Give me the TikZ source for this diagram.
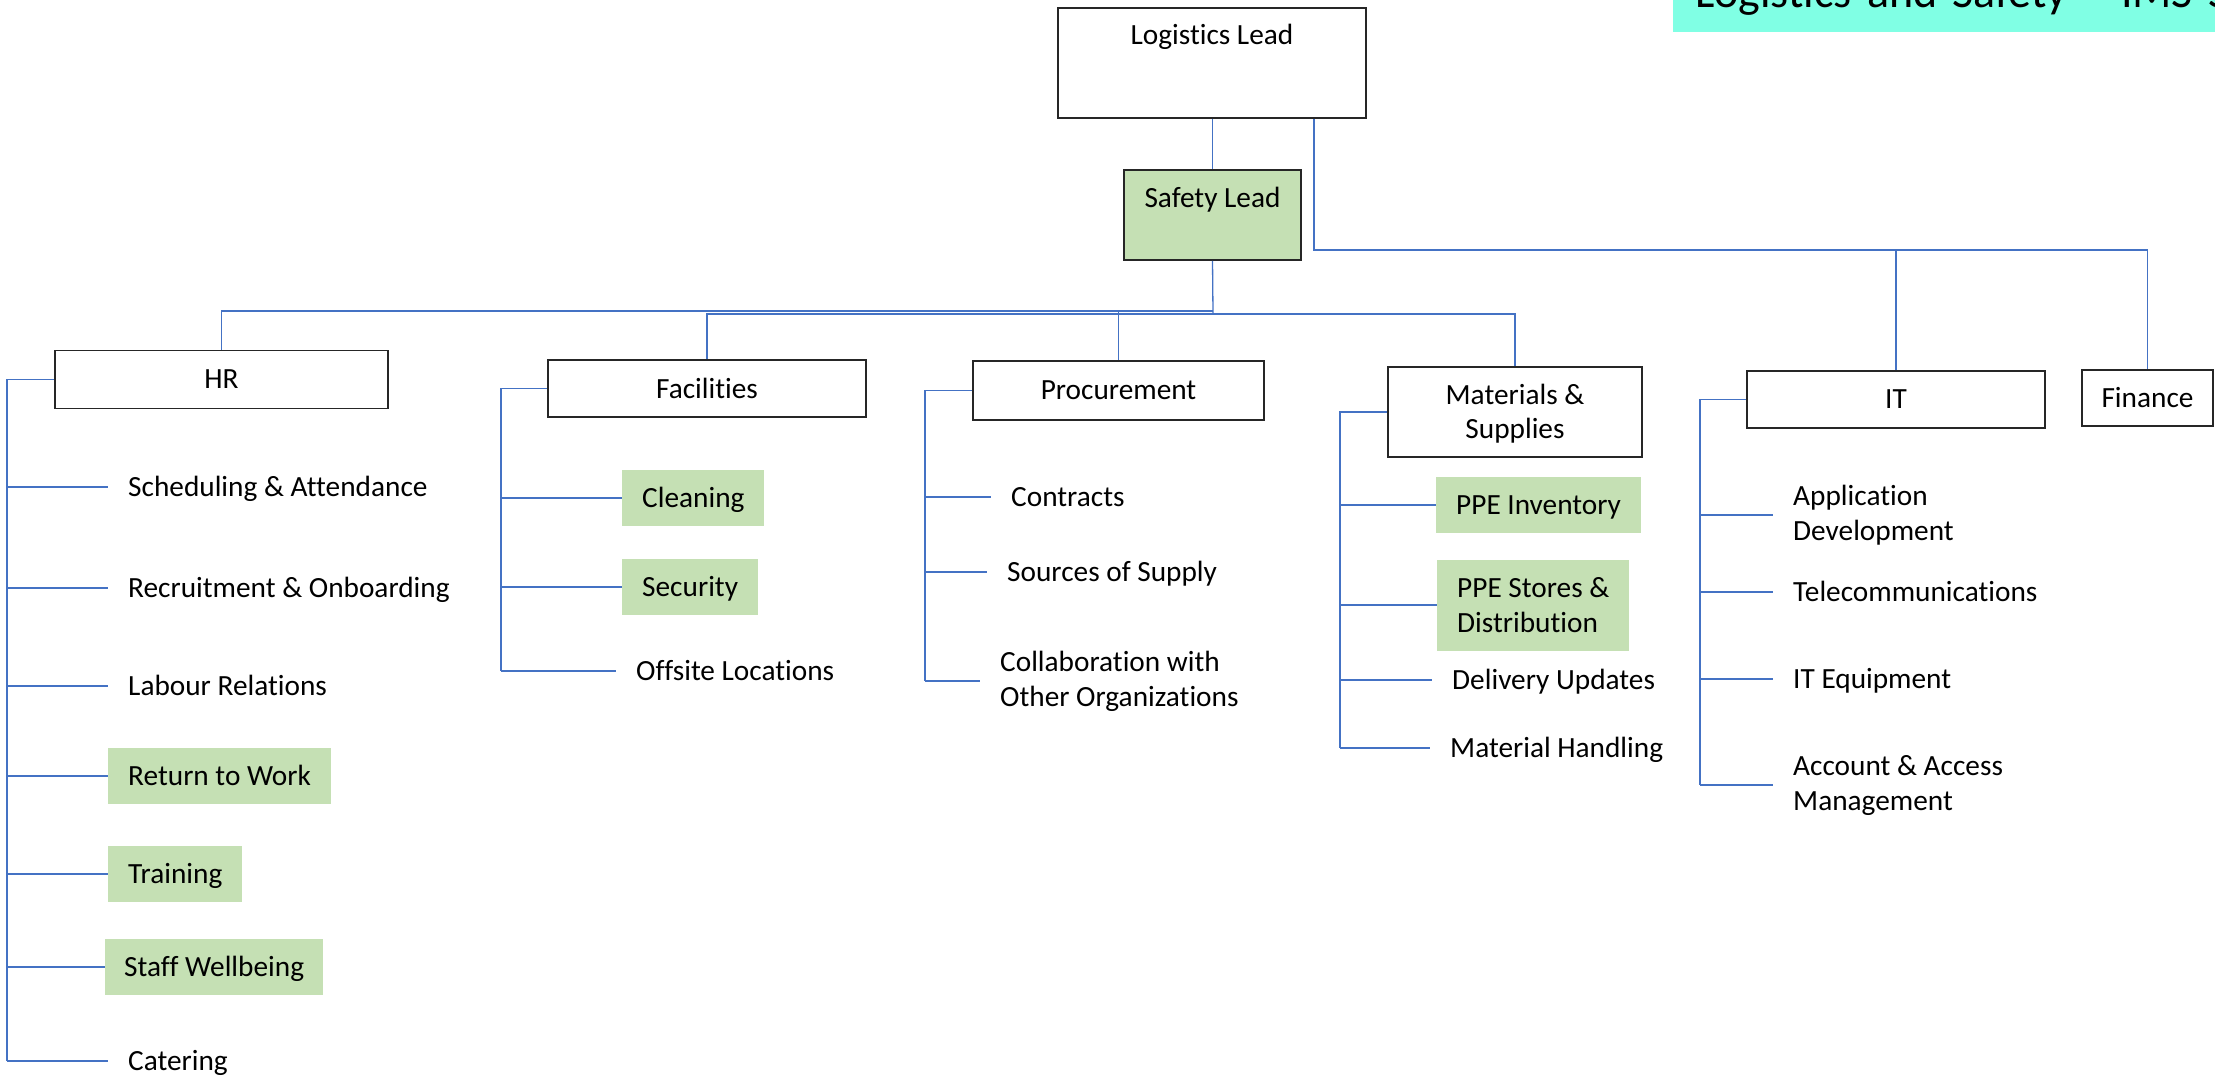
\documentclass[tikz,border=0pt]{standalone}
\usepackage{fontspec}
\setmainfont{Carlito}[Ligatures = NoCommon]
\usetikzlibrary{positioning}

\definecolor{linkblue}{HTML}{4472C4}
\definecolor{leafgreen}{HTML}{C5E0B4}
\definecolor{titlecyan}{RGB}{128,255,228}
\definecolor{boxedge}{HTML}{262626}

\tikzset{
    unit/.style = {draw = boxedge, line width = 1.6pt, fill = white, inner sep = 0pt, align = center},
    item/.style = {anchor = west, inner xsep = 20pt, inner ysep = 0pt, text height = 23pt, text depth = 5pt},
    item2/.style = {anchor = west, inner xsep = 20pt, inner ysep = 0pt, align = left},
    hl/.style = {fill = leafgreen, minimum height = 56pt},
    link/.style = {draw = linkblue, line width = 1.3pt},
    bus/.style = {draw = linkblue, line width = 1.7pt},
    twig/.style = {draw = linkblue, line width = 1.1pt}
}

\begin{document}
\begin{tikzpicture}[x = 1pt, y = -1pt, font = \fontsize{29.3}{35}\selectfont]
                \clip (0, 0) rectangle (2215, 1081);

                \node (title) [fill = titlecyan, anchor = south west, inner xsep = 22pt, inner ysep = 0pt, text width = 560pt, text height = 40pt, text depth = 24pt, font = \fontsize{46}{50}\selectfont] at (1673, 32) {Logistics and Safety – IMS S};

                \node (logistics) [unit, minimum width = 308pt, text height = 37pt, text depth = 73pt] at (1212, 63) {Logistics Lead};
                \node (safety) [unit, fill = leafgreen, minimum width = 177pt, text height = 37pt, text depth = 53pt] at (1212.5, 215) {Safety Lead};

                \node (hr) [unit, minimum width = 333pt, minimum height = 58pt] at (221.5, 379.5) {HR};
                \node (facilities) [unit, minimum width = 318pt, minimum height = 57pt] at (707, 388.5) {Facilities};
                \node (procurement) [unit, minimum width = 291pt, minimum height = 59pt] at (1118.5, 390.5) {Procurement};
                \node (materials) [unit, minimum width = 254pt, minimum height = 90pt, font = \fontsize{29.3}{34}\selectfont] at (1515, 412) {\rule{0pt}{24pt}Materials \&\\Supplies};
                \node (it) [unit, minimum width = 298pt, minimum height = 57pt] at (1896, 399.5) {IT};
                \node (finance) [unit, minimum width = 131pt, minimum height = 56pt] at (2147.5, 398) {Finance};

                \node (sched) [item] at (108, 487) {Scheduling \& Attendance};
                \node (recruit) [item] at (108, 588) {Recruitment \& Onboarding};
                \node (labour) [item] at (108, 686) {Labour Relations};
                \node (rtw) [item, hl] at (108, 776) {Return to Work};
                \node (training) [item, hl] at (108, 874) {Training};
                \node (wellbeing) [item, hl, inner xsep = 19pt] at (105, 967) {Staff Wellbeing};
                \node (catering) [item] at (108, 1061) {Catering};

                \node (cleaning) [item, hl] at (622, 498) {Cleaning};
                \node (security) [item, hl] at (622, 587) {Security};
                \node (offsite) [item] at (616, 671) {Offsite Locations};

                \node (contracts) [item] at (991, 497) {Contracts};
                \node (sources) [item] at (987, 572) {Sources of Supply};
                \node (collab) [item2] at (980, 681) {Collaboration with\\Other Organizations};

                \node (ppeinv) [item, hl] at (1436, 505) {PPE Inventory};
                \node (ppestore) [item2, hl, minimum height = 91pt] at (1437, 605) {PPE Stores \&\\Distribution};
                \node (delivery) [item] at (1432, 680) {Delivery Updates};
                \node (handling) [item] at (1430, 748) {Material Handling};

                \node (appdev) [item2] at (1773, 515) {Application\\Development};
                \node (telecom) [item] at (1773, 592) {Telecommunications};
                \node (itequip) [item] at (1773, 679) {IT Equipment};
                \node (access) [item2] at (1773, 785) {Account \& Access\\Management};

                \coordinate (side) at (1314, 250);
                \coordinate (upper) at (1213, 311);
                \coordinate (lower) at (1213, 314);

                \draw [link] (safety.north |- logistics.south) -- (safety.north);
                \draw [link] (logistics.south -| side) -- (side) -| (it.north);
                \draw [link] (side) -| (finance.north);
                \draw [link] (safety.south) -- (lower);
                \draw [link] (upper) -| (hr.north);
                \draw [link] (upper -| procurement.north) -- (procurement.north);
                \draw [link] (lower) -| (facilities.north);
                \draw [link] (lower) -| (materials.north);

                \coordinate (hrx) at (7, 0);
                \coordinate (facx) at (501, 0);
                \coordinate (procx) at (925, 0);
                \coordinate (matx) at (1340, 0);
                \coordinate (itx) at (1700, 0);

                \draw [bus] (hr.west) -- (hr.west -| hrx) -- (catering.west -| hrx);
                \foreach \leaf in {sched, recruit, labour, rtw, training, wellbeing, catering}
                    \draw [twig] (\leaf.west -| hrx) -- (\leaf.west);

                \draw [bus] (facilities.west) -- (facilities.west -| facx) -- (offsite.west -| facx);
                \foreach \leaf in {cleaning, security, offsite}
                    \draw [twig] (\leaf.west -| facx) -- (\leaf.west);

                \draw [bus] (procurement.west) -- (procurement.west -| procx) -- (collab.west -| procx);
                \foreach \leaf in {contracts, sources, collab}
                    \draw [twig] (\leaf.west -| procx) -- (\leaf.west);

                \draw [bus] (materials.west) -- (materials.west -| matx) -- (handling.west -| matx);
                \foreach \leaf in {ppeinv, ppestore, delivery, handling}
                    \draw [twig] (\leaf.west -| matx) -- (\leaf.west);

                \draw [bus] (it.west) -- (it.west -| itx) -- (access.west -| itx);
                \foreach \leaf in {appdev, telecom, itequip, access}
                    \draw [twig] (\leaf.west -| itx) -- (\leaf.west);
            \end{tikzpicture}
\end{document}
